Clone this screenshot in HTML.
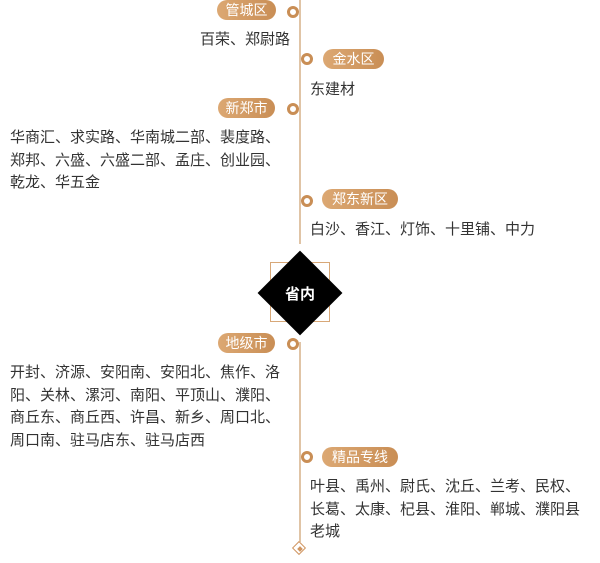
<!DOCTYPE html><html><head><meta charset="utf-8"><style>
body{margin:0;width:600px;height:563px;background:#fff;position:relative;overflow:hidden;font-family:"Liberation Sans","Noto Sans CJK SC",sans-serif}
.p{position:absolute;height:20px;line-height:20px;border-radius:10px;background:linear-gradient(90deg,#dca873,#c98e55);color:#fff;font-size:14px;text-align:center}
.d{position:absolute;width:6px;height:6px;border:3px solid #c98e55;border-radius:50%;background:#fff}
.t{position:absolute;font-size:15px;color:#333;line-height:22.5px;white-space:nowrap}
.v{position:absolute;left:299px;width:2px;background:#e0c4a6}
</style></head><body>
<div class="v" style="top:0;height:244px"></div>
<div class="v" style="top:342px;height:200px"></div>
<div class="p" style="left:217px;top:0;width:59px">管城区</div><div class="d" style="left:287px;top:6px"></div>
<div class="t" style="left:200px;top:29px">百荣、郑尉路</div>
<div class="p" style="left:323px;top:49px;width:61px">金水区</div><div class="d" style="left:301px;top:53px"></div>
<div class="t" style="left:310px;top:79px">东建材</div>
<div class="p" style="left:218px;top:98px;width:57px">新郑市</div><div class="d" style="left:287px;top:103px"></div>
<div class="t" style="left:10px;top:127px">华商汇、求实路、华南城二部、裴度路、<br>郑邦、六盛、六盛二部、孟庄、创业园、<br>乾龙、华五金</div>
<div class="p" style="left:322px;top:189px;width:76px">郑东新区</div><div class="d" style="left:301px;top:195px"></div>
<div class="t" style="left:310px;top:219px">白沙、香江、灯饰、十里铺、中力</div>
<div style="position:absolute;left:270px;top:262px;width:60px;height:60px;border:1px solid #d8a878;box-sizing:border-box"></div>
<div style="position:absolute;left:270px;top:263px;width:60px;height:60px;background:#000;transform:rotate(45deg)"></div>
<div style="position:absolute;left:270px;top:283px;width:60px;text-align:center;color:#fff;font-size:15px;font-weight:bold">省内</div>
<div class="p" style="left:218px;top:333px;width:57px">地级市</div><div class="d" style="left:287px;top:338px"></div>
<div class="t" style="left:10px;top:362px">开封、济源、安阳南、安阳北、焦作、洛<br>阳、关林、漯河、南阳、平顶山、濮阳、<br>商丘东、商丘西、许昌、新乡、周口北、<br>周口南、驻马店东、驻马店西</div>
<div class="p" style="left:322px;top:447px;width:76px">精品专线</div><div class="d" style="left:301px;top:451px"></div>
<div class="t" style="left:310px;top:476px">叶县、禹州、尉氏、沈丘、兰考、民权、<br>长葛、太康、杞县、淮阳、郸城、濮阳县<br>老城</div>
<div style="position:absolute;left:294px;top:543px;width:8px;height:8px;border:1.5px solid #d09560;background:#fff;transform:rotate(45deg)"></div>
<div style="position:absolute;left:298px;top:547px;width:4px;height:4px;background:#d09560;transform:rotate(45deg)"></div>
</body></html>
